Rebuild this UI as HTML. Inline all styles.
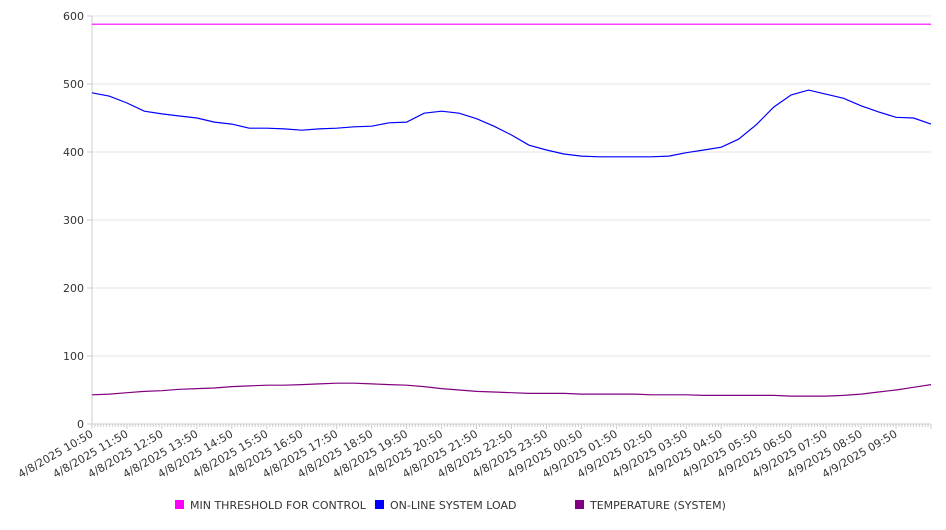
<!DOCTYPE html>
<html><head><meta charset="utf-8"><style>
body{margin:0;background:#fff;font-family:"DejaVu Sans","Liberation Sans",sans-serif;}
svg text{font-family:"DejaVu Sans","Liberation Sans",sans-serif;}
</style></head><body>
<svg id="chart" width="946" height="526" xmlns="http://www.w3.org/2000/svg">
<g id="grid"></g><g id="axes"></g><g id="series"></g><g id="legend"></g>
</svg>
<script>
const xLabels=["4/8/2025 10:50","4/8/2025 11:50","4/8/2025 12:50","4/8/2025 13:50","4/8/2025 14:50","4/8/2025 15:50","4/8/2025 16:50","4/8/2025 17:50","4/8/2025 18:50","4/8/2025 19:50","4/8/2025 20:50","4/8/2025 21:50","4/8/2025 22:50","4/8/2025 23:50","4/9/2025 00:50","4/9/2025 01:50","4/9/2025 02:50","4/9/2025 03:50","4/9/2025 04:50","4/9/2025 05:50","4/9/2025 06:50","4/9/2025 07:50","4/9/2025 08:50","4/9/2025 09:50"];
const yTicks=[0,100,200,300,400,500,600];
const threshold=[588,588];
const load=[487,482,472,460,456,453,450,444,441,435,435,434,432,434,435,437,438,443,444,457,460,457,449,438,425,410,403,397,394,393,393,393,393,394,399,403,407,419,440,466,484,491,485,479,468,459,451,450,441];
const temp=[43,44,46,48,49,51,52,53,55,56,57,57,58,59,60,60,59,58,57,55,52,50,48,47,46,45,45,45,44,44,44,44,43,43,43,42,42,42,42,42,41,41,41,42,44,47,50,54,58];
const seriesNames=["MIN THRESHOLD FOR CONTROL","ON-LINE SYSTEM LOAD","TEMPERATURE (SYSTEM)"];
const seriesColors=["#ff00ff","#0000ff","#800080"];
const NS="http://www.w3.org/2000/svg";
const L=92,R=931,T=16,B=424;
const hours=24;
function xs(h){return L+(R-L)*h/hours;}
function ys(v){return B-(B-T)*v/600;}
function mk(tag,attrs,parent){const e=document.createElementNS(NS,tag);for(const k in attrs)e.setAttribute(k,attrs[k]);parent.appendChild(e);return e;}
const grid=document.getElementById('grid'),axes=document.getElementById('axes'),ser=document.getElementById('series'),leg=document.getElementById('legend');
yTicks.forEach(v=>{
 if(v>0){const g=mk('line',{x1:L,x2:R,y1:ys(v),y2:ys(v),stroke:'#e6e6e6','stroke-width':1},grid);
 
 }
 const tk=mk('line',{x1:L-5,x2:L,y1:ys(v),y2:ys(v),stroke:'#ccc'},axes);
 
 
 const t=mk('text',{x:L-8,y:ys(v)+4,'text-anchor':'end','font-size':11,fill:'#333'},axes);
 t.textContent=v;
 
 
});
const ya=mk('line',{x1:L,x2:L,y1:T,y2:B,stroke:'#ccc'},axes);


const xa=mk('line',{x1:L,x2:R,y1:B,y2:B,stroke:'#ccc'},axes);


for(let i=0;i<=hours*12;i++){const x=xs(i/12);
 const m=mk('line',{x1:x,x2:x,y1:B,y2:B+(i%12===0?5:3),stroke:'#ccc'},axes);
 
 }
xLabels.forEach((lb,i)=>{const x=xs(i);
 const t=mk('text',{x:x+2,y:B+12,'text-anchor':'end','font-size':11,fill:'#333',transform:`rotate(-30 ${x+2} ${B+12})`},axes);
 t.textContent=lb;
 
 });
function line(arr,color,name){const n=arr.length-1;
 const d=arr.map((v,i)=>(i?'L':'M')+xs(hours*i/n).toFixed(1)+','+ys(v).toFixed(1)).join('');
 const p=mk('path',{d:d,fill:'none',stroke:color,'stroke-width':1.2},ser);
 
 }
line(threshold,seriesColors[0],'threshold-line');
line(load,seriesColors[1],'system-load-line');
line(temp,seriesColors[2],'temperature-line');
const lx=[175,375,575];
seriesNames.forEach((n,i)=>{
 const g=mk('g',{},leg);
 
 
 mk('rect',{x:lx[i],y:500,width:9,height:9,fill:seriesColors[i]},g);
 const t=mk('text',{x:lx[i]+15,y:509,'font-size':11,fill:'#333'},g);
 t.textContent=n;});
</script>
</body></html>
